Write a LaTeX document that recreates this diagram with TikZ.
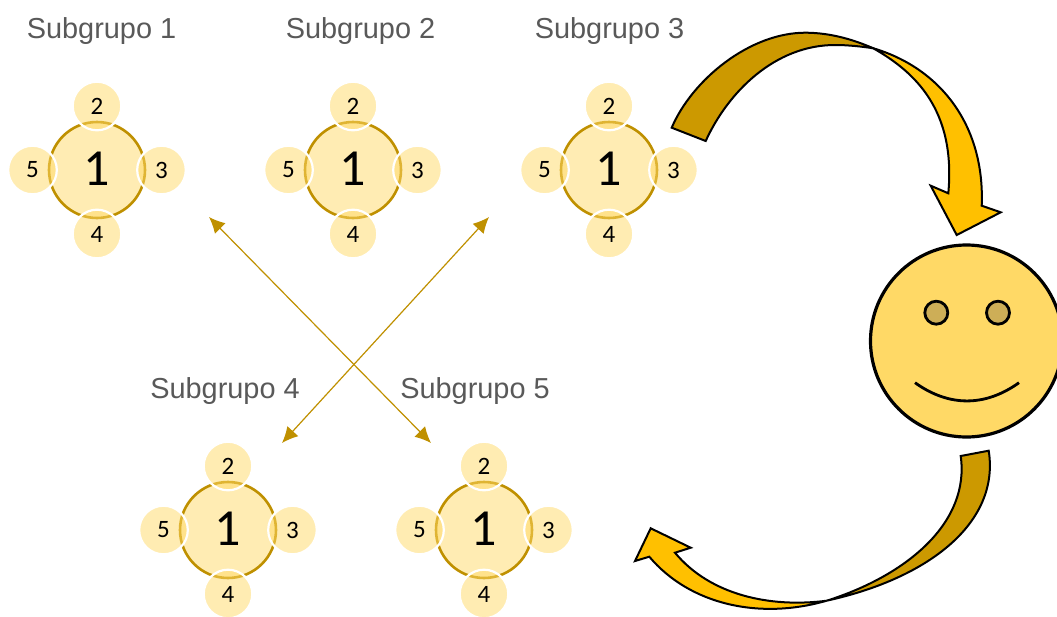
\documentclass[tikz,border=0pt]{standalone}
\usepackage{fontspec}
\setmainfont{Liberation Sans}
\newfontfamily\calfont{Carlito}
\usetikzlibrary{arrows.meta}
\definecolor{gold}{HTML}{BF9000}
\definecolor{petal}{HTML}{FFD966}
\definecolor{corefill}{HTML}{FFECB3}
\definecolor{twistdark}{HTML}{CC9900}
\definecolor{twistlight}{HTML}{FFC000}
\definecolor{eye}{HTML}{CDAE57}
\definecolor{labelgray}{HTML}{595959}
\tikzset{
  corenode/.style={circle,minimum size=96pt,inner sep=0pt,fill=corefill,draw=gold,line width=2.6pt,font=\calfont\fontsize{52}{52}\selectfont},
  petalnode/.style={circle,minimum size=48.6pt,inner sep=0pt,fill=petal,fill opacity=.5,text opacity=1,draw=white,line width=2.2pt,font=\calfont\fontsize{25}{25}\selectfont},
  grouplabel/.style={text=labelgray,font=\fontsize{28.9}{28.9}\selectfont,inner sep=0pt},
  crossline/.style={draw=gold,line width=1.2pt,{Latex[length=16pt,width=15pt]}-{Latex[length=16pt,width=15pt]}},
  twist/.style={draw=black,line width=2pt,line join=miter},
  face/.style={circle,draw=black,line width=3.2pt,fill=petal,minimum size=192pt,inner sep=0pt},
  eyenode/.style={circle,draw=black,line width=2.8pt,fill=eye,minimum size=23pt,inner sep=0pt}
}
\newcommand{\grupo}[3]{%
  \node[corenode] (c#1) at (#2,#3) {\raisebox{1.5pt}{1}};
  \node[petalnode] (n#1) at (#2,#3-64) {2};
  \node[petalnode] (e#1) at (#2+64.5,#3) {3};
  \node[petalnode] (s#1) at (#2,#3+64) {4};
  \node[petalnode] (w#1) at (#2-64.5,#3) {5};
}
\begin{document}
\begin{tikzpicture}[x=1pt,y=-1pt]
\useasboundingbox (0,0) rectangle (1057,616);
\grupo{A}{97}{170}
\grupo{B}{353}{170}
\grupo{C}{609}{170}
\grupo{D}{228}{530}
\grupo{E}{484}{530}
\node[grouplabel] (la) at (101.5,31) {Subgrupo 1};
\node[grouplabel] (lb) at (360.5,31) {Subgrupo 2};
\node[grouplabel] (lc) at (609.5,31) {Subgrupo 3};
\node[grouplabel] (ld) at (225,391) {Subgrupo 4};
\node[grouplabel] (le) at (475,391) {Subgrupo 5};
\coordinate (x1) at (209,217);
\coordinate (x2) at (431,443);
\coordinate (x3) at (489,217);
\coordinate (x4) at (282,443);
\draw[crossline] (x1) -- (x2);
\draw[crossline] (x3) -- (x4);
% upper curved arrow
\fill[twistdark,twist] (671.7,127.7) .. controls (692,80) and (750,32) .. (806.7,32.7)
  .. controls (830,33) and (852,39) .. (873.3,48.3)
  .. controls (862,46.5) and (848,45) .. (835,45)
  .. controls (775,45) and (728,92) .. (705.7,141) -- cycle;
\fill[twistlight,twist] (873.3,48.3) .. controls (940,68) and (985,125) .. (981.7,205.7)
  -- (1000.7,212.3) -- (956.7,235) -- (930.7,185.7) -- (948.3,193.3)
  .. controls (956,110) and (915,72) .. (873.3,48.3) -- cycle;
% lower curved arrow
\fill[twistdark,twist] (960.7,456) .. controls (970,522) and (908,575) .. (826.7,600.7)
  .. controls (930,578) and (1000,522) .. (988.7,450.7) -- cycle;
\fill[twistlight,twist] (826.7,600.7) .. controls (760,620) and (690,605) .. (649.3,556.7)
  -- (635,561) -- (650.7,528.3) -- (690.7,547.7) -- (675,552.7)
  .. controls (710,595) and (770,608) .. (826.7,600.7) -- cycle;
% face
\node[face] (face) at (966.5,341) {};
\node[eyenode] (eyeL) at (936.3,312.7) {};
\node[eyenode] (eyeR) at (998,312.7) {};
\coordinate (sm1) at (915,382.7);
\coordinate (sm2) at (1019,382.7);
\draw[line width=2.8pt,draw=black] (sm1) .. controls (949,407) and (985,407) .. (sm2);
\end{tikzpicture}
\end{document}
